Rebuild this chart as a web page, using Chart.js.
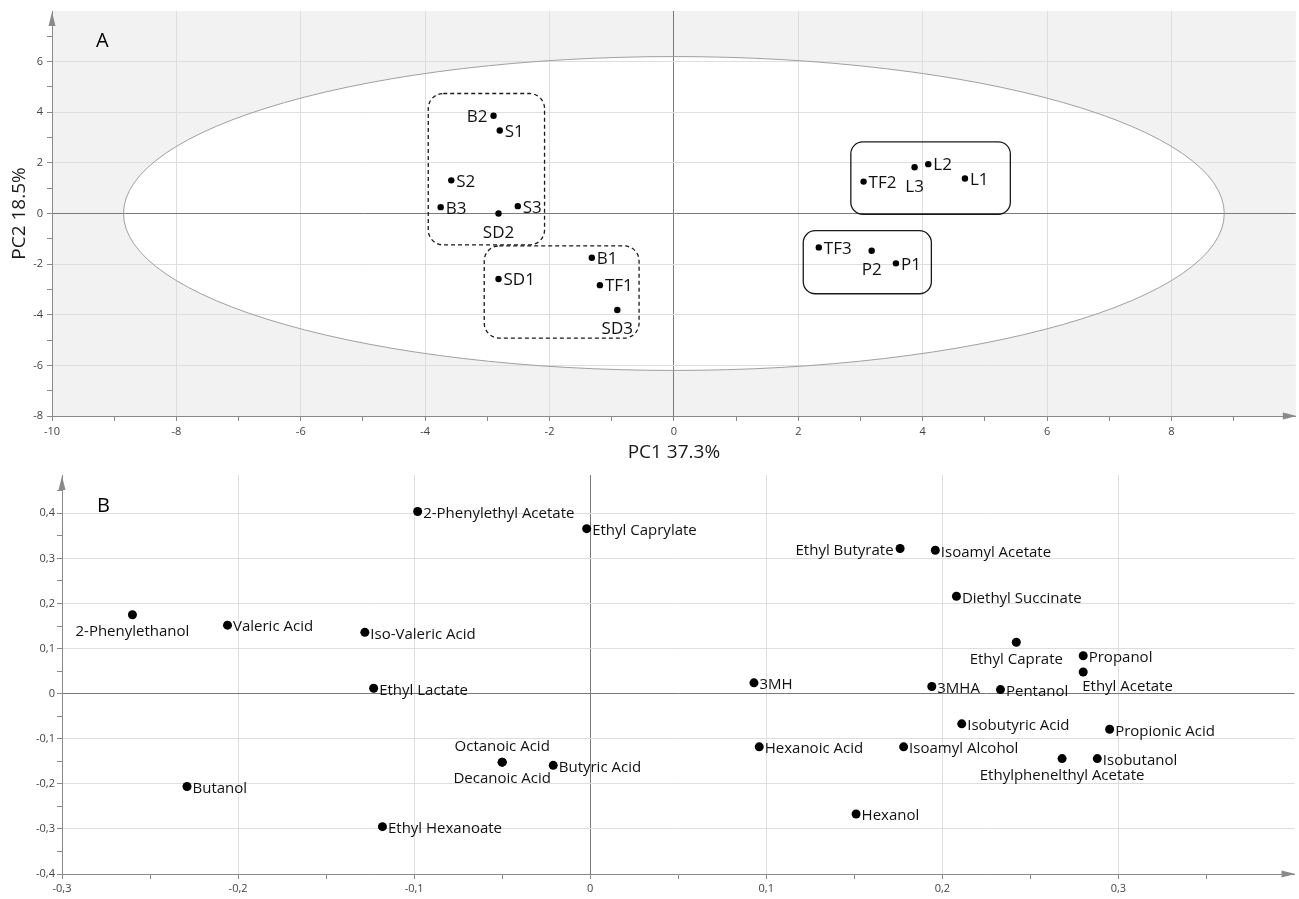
<!DOCTYPE html>
<html><head><meta charset="utf-8">
<script src="https://cdn.jsdelivr.net/npm/chart.js@4.4.1/dist/chart.umd.min.js"></script>
<style>
html,body{margin:0;padding:0;background:#fff;width:1299px;height:899px;overflow:hidden}
#wa{position:absolute;left:0;top:0;width:1299px;height:470px}
#wb{position:absolute;left:0;top:470px;width:1299px;height:429px}
</style></head><body>
<div id="wa"><canvas id="ca"></canvas></div>
<div id="wb"><canvas id="cb"></canvas></div>
<script>
// ---------- Panel A: scores ----------
const scoreNames = ['B2','S1','S2','B3','SD2','S3','B1','SD1','TF1','SD3','TF2','L3','L2','L1','TF3','P2','P1'];
const scorePC1   = [-2.90,-2.80,-3.58,-3.75,-2.82,-2.51,-1.32,-2.82,-1.19,-0.91,3.05,3.87,4.09,4.68,2.33,3.18,3.57];
const scorePC2   = [3.86,3.28,1.31,0.25,0.00,0.29,-1.75,-2.59,-2.83,-3.81,1.26,1.83,1.95,1.38,-1.34,-1.47,-1.97];
const scoreLabelSide = ['l','r','r','r','b','r','r','r','r','b','r','b','r','r','r','b','r'];
const scoreXTicks = [-10,-9,-8,-7,-6,-5,-4,-3,-2,-1,0,1,2,3,4,5,6,7,8,9];
const scoreYTicks = [-8,-7,-6,-5,-4,-3,-2,-1,0,1,2,3,4,5,6,7];
const scoreAxisTitles = ['PC1 37.3%','PC2 18.5%'];
const ellipseSemiAxes = [8.85, 6.2];
// group boxes: [xMin, xMax, yMin, yMax, dashed]
const groupBoxX1 = [-3.95, -3.05, 2.845, 2.08];
const groupBoxX2 = [-2.08, -0.56, 5.41, 4.14];
const groupBoxY1 = [-1.24, -4.92, -0.03, -3.17];
const groupBoxY2 = [4.74, -1.28, 2.83, -0.68];
const groupBoxDashed = [true, true, false, false];

// ---------- Panel B: loadings ----------
const loadingNames = ['2-Phenylethyl Acetate','Ethyl Caprylate','2-Phenylethanol','Valeric Acid','Iso-Valeric Acid','Ethyl Lactate','Octanoic Acid','Decanoic Acid','Butyric Acid','Butanol','Ethyl Hexanoate','Ethyl Butyrate','Isoamyl Acetate','Diethyl Succinate','Ethyl Caprate','Propanol','Ethyl Acetate','3MH','3MHA','Pentanol','Isobutyric Acid','Propionic Acid','Hexanoic Acid','Isoamyl Alcohol','Ethylphenelthyl Acetate','Isobutanol','Hexanol'];
const loadingX = [-0.098,-0.002,-0.260,-0.206,-0.128,-0.123,-0.050,-0.050,-0.021,-0.229,-0.118,0.176,0.196,0.208,0.242,0.280,0.280,0.093,0.194,0.233,0.211,0.295,0.096,0.178,0.268,0.288,0.151];
const loadingY = [0.404,0.366,0.175,0.152,0.136,0.012,-0.152,-0.152,-0.159,-0.206,-0.295,0.322,0.318,0.216,0.114,0.084,0.048,0.024,0.016,0.009,-0.067,-0.079,-0.118,-0.118,-0.144,-0.144,-0.267];
const loadingLabelSide = ['r','r','b','r','r','r','a','b','r','r','r','l','r','r','b','r','br','r','r','r','r','r','r','r','b','r','r'];
const loadingXTicks = [-0.3,-0.25,-0.2,-0.15,-0.1,-0.05,0,0.05,0.1,0.15,0.2,0.25,0.3,0.35];
const loadingYTicks = [-0.4,-0.35,-0.3,-0.25,-0.2,-0.15,-0.1,-0.05,0,0.05,0.1,0.15,0.2,0.25,0.3,0.35,0.4,0.45];

const FONT = "'Open Sans', 'Noto Sans', sans-serif";

function isMajor(v, step){ const r = v/step; return Math.abs(r-Math.round(r)) < 1e-6; }
function commaFmt(v){ if (Math.abs(v) < 1e-9) return '0'; return v.toFixed(1).replace('.',','); }

function roundRect(ctx,x,y,w,h,r){
  ctx.beginPath();
  ctx.moveTo(x+r,y); ctx.lineTo(x+w-r,y); ctx.arcTo(x+w,y,x+w,y+r,r);
  ctx.lineTo(x+w,y+h-r); ctx.arcTo(x+w,y+h,x+w-r,y+h,r);
  ctx.lineTo(x+r,y+h); ctx.arcTo(x,y+h,x,y+h-r,r);
  ctx.lineTo(x,y+r); ctx.arcTo(x,y,x+r,y,r); ctx.closePath();
}

const deco = {
  id:'deco',
  beforeDraw(chart, args, o){
    const {ctx, chartArea:a, scales:{x,y}} = chart;
    ctx.save();
    ctx.fillStyle = o.bg; ctx.fillRect(a.left, a.top, a.right-a.left, a.bottom-a.top);
    if (o.ellipse){
      const cx = x.getPixelForValue(0), cy = y.getPixelForValue(0);
      const rx = Math.abs(x.getPixelForValue(o.ellipse[0])-cx), ry = Math.abs(y.getPixelForValue(o.ellipse[1])-cy);
      ctx.beginPath(); ctx.ellipse(cx,cy,rx,ry,0,0,Math.PI*2);
      ctx.fillStyle = '#ffffff'; ctx.fill();
    }
    ctx.restore();
  },
  beforeDatasetsDraw(chart, args, o){
    const {ctx, chartArea:a, scales:{x,y}} = chart;
    ctx.save();
    if (o.ellipse){
      const cx = x.getPixelForValue(0), cy = y.getPixelForValue(0);
      const rx = Math.abs(x.getPixelForValue(o.ellipse[0])-cx), ry = Math.abs(y.getPixelForValue(o.ellipse[1])-cy);
      ctx.beginPath(); ctx.ellipse(cx,cy,rx,ry,0,0,Math.PI*2);
      ctx.strokeStyle = '#a0a0a0'; ctx.lineWidth = 1; ctx.stroke();
    }
    if (o.boxes){
      for (let i=0;i<groupBoxX1.length;i++){
        const x1 = x.getPixelForValue(groupBoxX1[i]), x2 = x.getPixelForValue(groupBoxX2[i]);
        const y1 = y.getPixelForValue(groupBoxY2[i]), y2 = y.getPixelForValue(groupBoxY1[i]);
        ctx.setLineDash(groupBoxDashed[i] ? [4,3] : []);
        ctx.strokeStyle = '#1a1a1a'; ctx.lineWidth = 1.3;
        roundRect(ctx, x1, y1, x2-x1, y2-y1, groupBoxDashed[i] ? 15 : 12);
        ctx.stroke();
      }
      ctx.setLineDash([]);
    }
    // axis arrows
    ctx.fillStyle = '#8a8a8a';
    ctx.beginPath(); ctx.moveTo(a.right+1, a.bottom); ctx.lineTo(a.right-13, a.bottom-3.5); ctx.lineTo(a.right-13, a.bottom+3.5); ctx.closePath(); ctx.fill();
    ctx.beginPath(); ctx.moveTo(a.left, a.top+1); ctx.lineTo(a.left-3.5, a.top+15); ctx.lineTo(a.left+3.5, a.top+15); ctx.closePath(); ctx.fill();
    ctx.restore();
  },
  afterDatasetsDraw(chart, args, o){
    const {ctx} = chart;
    const meta = chart.getDatasetMeta(0);
    ctx.save();
    ctx.font = o.labelFont; ctx.fillStyle = '#111';
    meta.data.forEach((pt, i) => {
      const side = o.sides[i], t = o.names[i];
      const d = o.off;
      let tx = pt.x, ty = pt.y, al = 'left';
      if (side === 'r'){ tx += d.r; ty += d.ry; al='left'; }
      else if (side === 'l'){ tx -= d.r+1; ty += d.ry; al='right'; }
      else if (side === 'b'){ ty += d.b; al='center'; }
      else if (side === 'a'){ ty -= d.a; al='center'; }
      else if (side === 'br'){ tx -= 1; ty += d.b-2; al='left'; }
      ctx.textAlign = al; ctx.textBaseline = 'middle';
      ctx.fillText(t, tx, ty);
    });
    // panel letter
    ctx.font = '20px ' + FONT; ctx.fillStyle = '#000'; ctx.textAlign='left'; ctx.textBaseline='alphabetic';
    ctx.fillText(o.letter[0], o.letter[1], o.letter[2]);
    // axis titles
    if (o.titles){
      ctx.font = '19px ' + FONT; ctx.fillStyle = '#1a1a1a'; ctx.textAlign='center'; ctx.textBaseline='middle';
      ctx.fillText(o.titles[0], chart.scales.x.getPixelForValue(0), 453);
      ctx.save(); ctx.translate(20, chart.scales.y.getPixelForValue(0)); ctx.rotate(-Math.PI/2);
      ctx.fillText(o.titles[1], 0, 0); ctx.restore();
    }
    ctx.restore();
  }
};

function makeScale(tickVals, step, fmt, fitSize, horiz, tickPad){
  return {
    type:'linear',
    min: tickVals[0],
    afterBuildTicks: s => { s.ticks = tickVals.map(v => ({value:v})); },
    afterFit: s => {
      if (horiz) s.height = fitSize; else s.width = fitSize;
      s.paddingTop = 0; s.paddingBottom = 0; s.paddingLeft = 0; s.paddingRight = 0;
    },
    ticks: {
      autoSkip:false, maxRotation:0, minRotation:0, padding: tickPad,
      color:'#444', font:{family:FONT, size:11},
      callback: v => isMajor(v, step) ? fmt(v) : ''
    },
    grid: {
      color: c => (c.tick && Math.abs(c.tick.value) < 1e-9) ? '#7a7a7a' : (c.tick && isMajor(c.tick.value, step) ? '#dedede' : 'rgba(0,0,0,0)'),
      lineWidth: 1,
      tickColor: '#8a8a8a', tickLength: 5, drawTicks: true
    },
    border: { display:true, color:'#8a8a8a', width:1 }
  };
}

Chart.defaults.font.family = FONT;

const xA = makeScale(scoreXTicks, 2, v => String(v), 54, true, 4); xA.max = 10;
const yA = makeScale(scoreYTicks, 2, v => String(v), 52, false, 4); yA.max = 8;
new Chart(document.getElementById('ca'), {
  type:'scatter',
  data:{ datasets:[{ data: scorePC1.map((v,i)=>({x:v, y:scorePC2[i]})), backgroundColor:'#000', borderWidth:0, pointRadius:3.2, pointHoverRadius:3.2 }]},
  options:{
    responsive:true, maintainAspectRatio:false, animation:false, devicePixelRatio:1,
    layout:{ padding:{ left:0, top:11, right:3, bottom:0 } },
    plugins:{ legend:{display:false}, tooltip:{enabled:false},
      deco:{ bg:'#f2f2f2', ellipse: ellipseSemiAxes, boxes:true, names: scoreNames, sides: scoreLabelSide,
        labelFont: '17px ' + FONT, off:{r:5, ry:1.5, b:19.5, a:15}, letter:['A', 96, 47], titles: scoreAxisTitles } },
    scales:{ x: xA, y: yA }
  },
  plugins:[deco]
});

const xB = makeScale(loadingXTicks, 0.1, commaFmt, 25, true, 3); xB.max = 0.4;
const yB = makeScale(loadingYTicks, 0.1, commaFmt, 62, false, 2); yB.max = 0.485;
new Chart(document.getElementById('cb'), {
  type:'scatter',
  data:{ datasets:[{ data: loadingX.map((v,i)=>({x:v, y:loadingY[i]})), backgroundColor:'#000', borderWidth:0, pointRadius:4.5, pointHoverRadius:4.5 }]},
  options:{
    responsive:true, maintainAspectRatio:false, animation:false, devicePixelRatio:1,
    layout:{ padding:{ left:0, top:5, right:3, bottom:0 } },
    plugins:{ legend:{display:false}, tooltip:{enabled:false},
      deco:{ bg:'#ffffff', ellipse:null, boxes:false, names: loadingNames, sides: loadingLabelSide,
        labelFont: '15px ' + FONT, off:{r:5.5, ry:2, b:17, a:15}, letter:['B', 97, 42], titles:null } },
    scales:{ x: xB, y: yB }
  },
  plugins:[deco]
});
</script>
</body></html>
